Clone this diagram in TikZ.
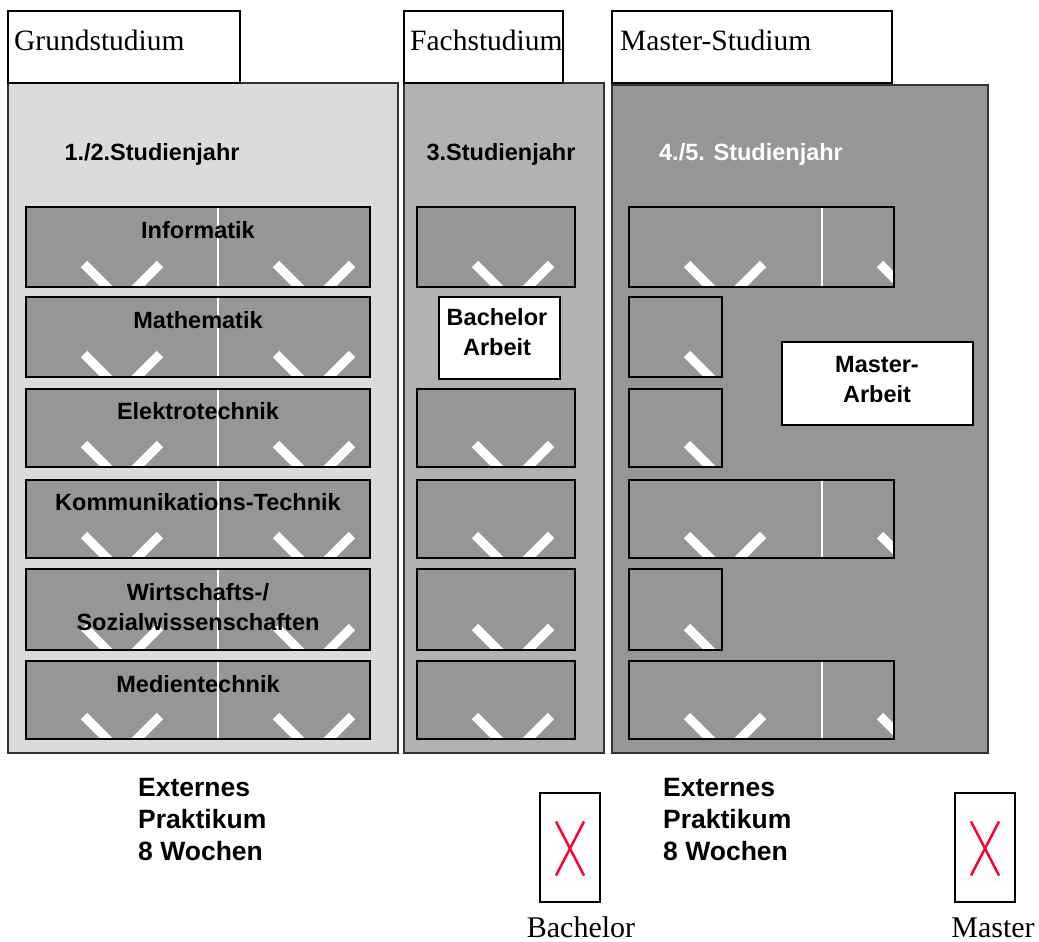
\documentclass[tikz,border=0pt]{standalone}
\usepackage{fontspec}
\setmainfont{Liberation Serif}
\setsansfont{Liberation Sans}
\usetikzlibrary{positioning}

\definecolor{grundgrau}{gray}{0.86}
\definecolor{fachgrau}{gray}{0.70}
\definecolor{mastergrau}{gray}{0.59}
\definecolor{kreuzrot}{RGB}{255,0,51}

% zwei weisse Striche, links ab Zelle #1, Kastenunterkante #2
\newcommand{\chev}[2]{%
  \draw[chevline] (#1+58,#2-23) -- ++(32,32);
  \draw[chevline] (#1+134,#2-23) -- ++(-32,32);
}

\begin{document}
\begin{tikzpicture}[x=1pt, y=-1pt,
    kopf/.style={draw, line width=2pt, fill=white},
    spalte/.style={draw=black!80, line width=1.2pt},
    kurs/.style={draw, line width=2pt},
    chevline/.style={white, line width=9pt},
    teiler/.style={white, line width=2pt},
    arbeit/.style={draw, line width=1.5pt, fill=white},
    kopftext/.style={inner sep=0pt, anchor=base west, font=\fontsize{29.5}{32}\selectfont},
    fach/.style={inner sep=0pt, anchor=base, align=center, font=\sffamily\bfseries\fontsize{23.5}{30}\selectfont},
    praktikum/.style={inner sep=0pt, anchor=base west, align=left, font=\sffamily\bfseries\fontsize{26.5}{32}\selectfont},
    ikon/.style={draw, line width=1.2pt, minimum width=60pt, minimum height=109pt, inner sep=0pt},
    kreuz/.style={kreuzrot, line width=2.5pt},
    abschluss/.style={inner sep=0pt, anchor=base, font=\fontsize{30}{32}\selectfont}]

    \useasboundingbox (0,0) rectangle (1039,942);

    % Spalten
    \draw[spalte, fill=grundgrau] (8,83) rectangle (398,753);
    \draw[spalte, fill=fachgrau] (404,83) rectangle (604,753);
    \draw[spalte, fill=mastergrau] (612,85) rectangle (988,753);

    \draw[kopf] (8,11) rectangle (240,83);
    \draw[kopf] (404,11) rectangle (563,83);
    \draw[kopf] (612,11) rectangle (892,83);

    \node[kopftext] (grund) at (14,51) {Grundstudium};
    \node[kopftext] (fachst) at (410,51) {Fachstudium};
    \node[kopftext] (masterst) at (620,51) {Master-Studium};

    \node[fach] (jahr12) at (152,160) {1./2.Studienjahr};
    \node[fach] (jahr3) at (501,160) {3.Studienjahr};
    \node[fach, text=white] (jahr45) at (751,160) {4./5. Studienjahr};

    % Grundstudium und Fachstudium
    \foreach \oben/\unten in {207/287, 297/377, 389/467, 480/558, 569/650, 661/739} {
        \begin{scope}
            \clip (26,\oben) rectangle (370,\unten);
            \fill[mastergrau] (26,\oben) rectangle (370,\unten);
            \chev{26}{\unten}
            \chev{218}{\unten}
        \end{scope}
        \draw[teiler] (218,\oben) -- (218,\unten);
        \draw[kurs] (26,\oben) rectangle (370,\unten);
    }
    \foreach \oben/\unten in {207/287, 389/467, 480/558, 569/650, 661/739} {
        \begin{scope}
            \clip (417,\oben) rectangle (575,\unten);
            \fill[mastergrau] (417,\oben) rectangle (575,\unten);
            \chev{417}{\unten}
        \end{scope}
        \draw[kurs] (417,\oben) rectangle (575,\unten);
    }

    % Master-Studium
    \foreach \oben/\unten in {207/287, 480/558, 661/739} {
        \begin{scope}
            \clip (629,\oben) rectangle (894,\unten);
            \chev{629}{\unten}
            \chev{822}{\unten}
        \end{scope}
        \draw[teiler] (822,\oben) -- (822,\unten);
        \draw[kurs] (629,\oben) rectangle (894,\unten);
    }
    \foreach \oben/\unten in {297/377, 389/467, 569/650} {
        \begin{scope}
            \clip (629,\oben) rectangle (722,\unten);
            \chev{629}{\unten}
        \end{scope}
        \draw[kurs] (629,\oben) rectangle (722,\unten);
    }

    \node[fach] (inf) at (198,238) {Informatik};
    \node[fach] (mathe) at (198,328) {Mathematik};
    \node[fach] (etech) at (198,419) {Elektrotechnik};
    \node[fach] (ktech) at (198,510) {Kommunikations-Technik};
    \node[fach] (wiso) at (198,630) {Wirtschafts-/\\Sozialwissenschaften};
    \node[fach] (mtech) at (198,692) {Medientechnik};

    \draw[arbeit] (439,297) rectangle (560,379);
    \node[fach] (bacharb) at (497,355) {Bachelor\\Arbeit};
    \draw[arbeit] (782,342) rectangle (973,425);
    \node[fach] (masterarb) at (877,402) {Master-\\Arbeit};

    % Praktikum und Abschluss
    \node[praktikum] (prak1) at (138,860) {Externes\\Praktikum\\8 Wochen};
    \node[praktikum] (prak2) at (663,860) {Externes\\Praktikum\\8 Wochen};

    \node[ikon] (bachikon) at (570,847.5) {};
    \draw[kreuz] ([xshift=-14pt, yshift=26pt]bachikon.center) -- ([xshift=14pt, yshift=-28pt]bachikon.center);
    \draw[kreuz] ([xshift=14pt, yshift=26pt]bachikon.center) -- ([xshift=-14pt, yshift=-28pt]bachikon.center);
    \node[ikon] (masterikon) at (985,847.5) {};
    \draw[kreuz] ([xshift=-14pt, yshift=26pt]masterikon.center) -- ([xshift=14pt, yshift=-28pt]masterikon.center);
    \draw[kreuz] ([xshift=14pt, yshift=26pt]masterikon.center) -- ([xshift=-14pt, yshift=-28pt]masterikon.center);

    \node[abschluss] (bachelor) at (581,937) {Bachelor};
    \node[abschluss] (master) at (993,937) {Master};

\end{tikzpicture}
\end{document}
